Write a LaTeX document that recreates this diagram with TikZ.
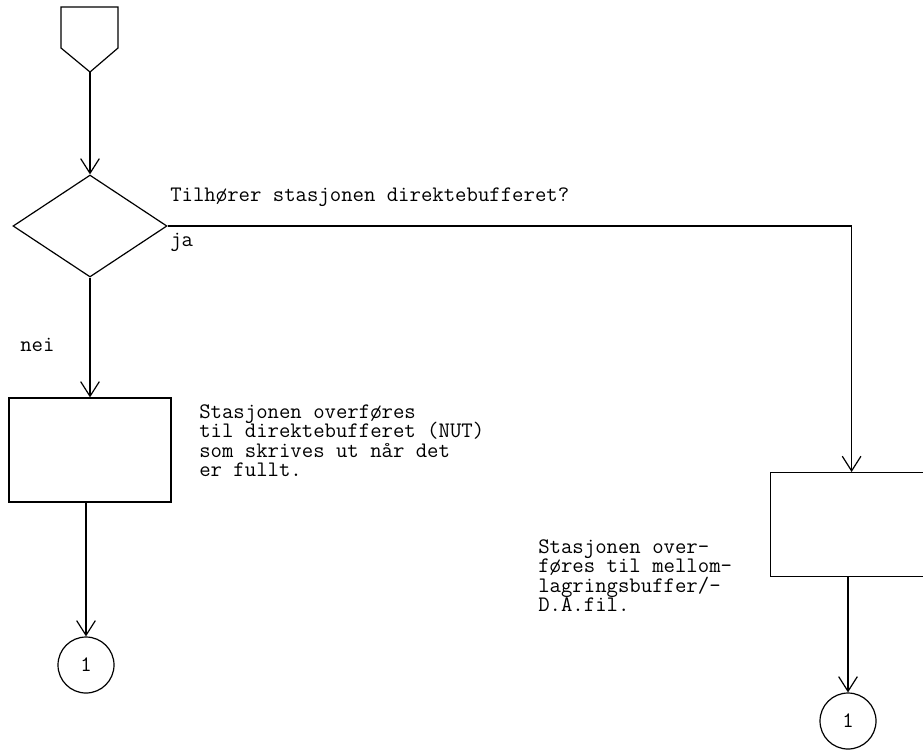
\documentclass[tikz,border=0pt]{standalone}
\usepackage{fontspec}
\usetikzlibrary{shapes.geometric,arrows.meta}
\begin{document}
\begin{tikzpicture}[x=0.75pt,y=-0.75pt,
  every node/.style={font=\ttfamily\fontsize{16.6}{14.6}\selectfont},
  line/.style={line width=0.9pt},
  flow/.style={line, -{Straight Barb[length=11pt,width=14pt,line width=0.9pt]}},
  procbox/.style={draw, line width=0.9pt, minimum width=121.5pt, minimum height=78pt, inner sep=0pt},
  decbox/.style={draw, diamond, line width=0.9pt, minimum width=115.5pt, minimum height=76.5pt, inner sep=0pt},
  connbox/.style={draw, circle, line width=0.9pt, minimum size=42pt, inner sep=0pt},
  note/.style={anchor=base west, inner sep=0pt, text height=10.2pt, text depth=3.4pt}]
\useasboundingbox (0,0) rectangle (923,751);
% off-page connector
\draw[line] (61,7) -- (118,7) -- (118,48) -- (90,72) -- (61,48) -- cycle;
\coordinate (tip) at (90,72);
\node[decbox] (dec) at (90,226) {};
\node[procbox] (boxL) at (90,450) {};
\node[procbox, anchor=north west] (boxR) at (770,472) {};
\node[connbox] (cL) at (86,665) {};
\node[connbox] (cR) at (848,721) {};
\draw[flow] (tip) -- (dec.north);
\draw[flow] (dec.south) -- (boxL.north);
\draw[flow] (dec.east) -| (boxR.north);
\draw[flow] (boxL.south -| cL.north) -- (cL.north);
\draw[flow] (boxR.south -| cR.north) -- (cR.north);
\node at (cL) {1};
\node at (cR) {1};
\node[note] (q) at (170,201) {Tilhører stasjonen direktebufferet?};
\node[note] (ja) at (170,246) {ja};
\node[note] (nei) at (20,351) {nei};
\node[note] (tL1) at (199,418) {Stasjonen overføres};
\node[note] (tL2) at (199,437.5) {til direktebufferet (NUT)};
\node[note] (tL3) at (199,457) {som skrives ut når det};
\node[note] (tL4) at (199,476) {er fullt.};
\node[note] (tR1) at (538,553) {Stasjonen over-};
\node[note] (tR2) at (538,572.5) {føres til mellom-};
\node[note] (tR3) at (538,592) {lagringsbuffer/-};
\node[note] (tR4) at (538,611) {D.A.fil.};
\end{tikzpicture}
\end{document}
